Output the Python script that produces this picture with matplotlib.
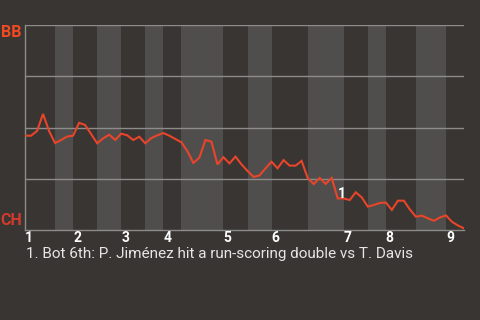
"""Win probability chart, BB at CH, one point per play."""
import matplotlib
matplotlib.use('Agg')
import matplotlib.pyplot as plt
from matplotlib.transforms import blended_transform_factory

# home-team win chance is bottom, away-team (BB) is top
win_prob = [0.460, 0.460, 0.483, 0.566, 0.483, 0.424, 0.439, 0.456, 0.460, 0.523,
            0.512, 0.468, 0.423, 0.447, 0.465, 0.439, 0.470, 0.462, 0.439, 0.455,
            0.423, 0.448, 0.462, 0.473, 0.460, 0.444, 0.428, 0.385, 0.327, 0.353,
            0.439, 0.431, 0.320, 0.355, 0.325, 0.358, 0.320, 0.288, 0.259, 0.266,
            0.301, 0.333, 0.301, 0.341, 0.314, 0.314, 0.337, 0.254, 0.224, 0.254,
            0.225, 0.254, 0.154, 0.154, 0.146, 0.184, 0.159, 0.114, 0.122, 0.132,
            0.134, 0.098, 0.143, 0.143, 0.100, 0.065, 0.070, 0.057, 0.045, 0.061,
            0.071, 0.040, 0.022, 0.008]

# play index where each half inning starts (top 1st, bot 1st, ...) plus the end
half_breaks = [0, 5, 8, 12, 16, 20, 23, 26, 33, 37, 41, 47, 53, 57, 60, 65, 70, 73]
inning_labels = ['1', '2', '3', '4', '5', '6', '7', '8', '9']

away_team = 'BB'
home_team = 'CH'
note_index = 52
note_label = '1'
caption = '1. Bot 6th: P. Jiménez hit a run-scoring double vs T. Davis'

BG = '#383532'
BAND = '#4f4e4c'
GRID = '#8e8c8a'
LINE = '#e8452a'

plt.rcParams['font.family'] = ['Roboto', 'DejaVu Sans']

fig = plt.figure(figsize=(4.8, 3.2), dpi=100, facecolor=BG)
ax = fig.add_axes([25 / 480, 1 - 230 / 320, 439 / 480, 205 / 320])
ax.set_facecolor(BG)

# shade bottom halves
for k in range(1, len(half_breaks) - 1, 2):
    ax.axvspan(half_breaks[k], half_breaks[k + 1], color=BAND, lw=0, zorder=0)

for g in [0.25, 0.5, 0.75, 1.0]:
    ax.axhline(g, color=GRID, lw=1, zorder=1)

ax.plot(range(len(win_prob)), win_prob, color=LINE, lw=1.5, zorder=3,
        solid_joinstyle='miter')

ax.set_xlim(0, len(win_prob) - 1)
ax.set_ylim(0, 1)
for s in ['top', 'right']:
    ax.spines[s].set_visible(False)
for s in ['left', 'bottom']:
    ax.spines[s].set_color(GRID)
    ax.spines[s].set_linewidth(1)
ax.set_xticks([])
ax.set_yticks([])

trans = blended_transform_factory(ax.transData, ax.transAxes)
for lab, start in zip(inning_labels, half_breaks[0:-1:2]):
    ax.text(start, -0.057, lab, transform=trans, ha='left', va='baseline',
            color='white', fontsize=10, fontweight='bold')

ax.text(note_index, win_prob[note_index], note_label, ha='left', va='baseline',
        color='white', fontsize=10, fontweight='bold', zorder=4)

fig.text(22 / 480, 1 - 36.7 / 320, away_team, ha='right', va='baseline',
         color='#f04a22', fontsize=11.5, fontweight='bold')
fig.text(22 / 480, 1 - 225 / 320, home_team, ha='right', va='baseline',
         color='#d23a2c', fontsize=11.5, fontweight='bold')

fig.text(26 / 480, 1 - 258.3 / 320, caption, ha='left', va='baseline',
         color='#e6e6e6', fontsize=11)

fig.savefig('out.png', dpi=100, facecolor=BG)
